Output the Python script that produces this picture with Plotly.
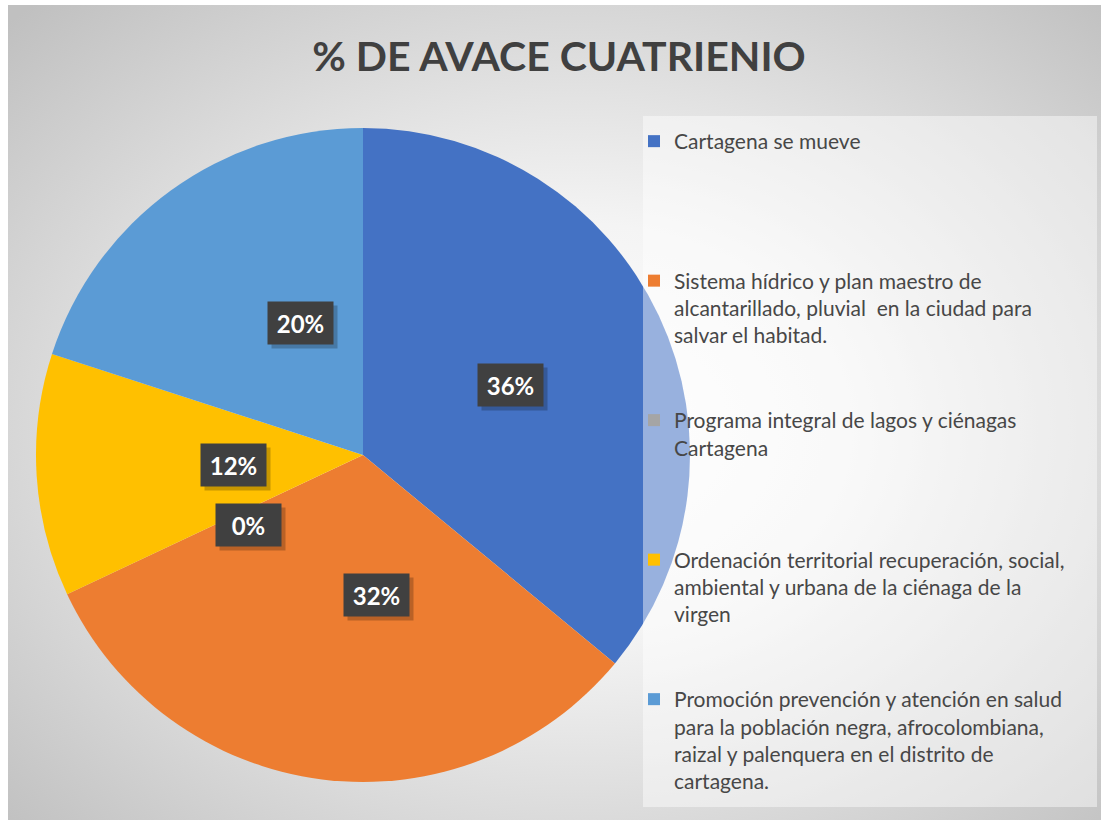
import base64
import math
import plotly.graph_objects as go

W, H = 1101, 820

title_text = "% DE AVACE CUATRIENIO"
categories = [
    "Cartagena se mueve",
    "Sistema hídrico y plan maestro de<br>alcantarillado, pluvial\u00a0 en la ciudad para<br>salvar el habitad.",
    "Programa integral de lagos y ciénagas<br>Cartagena",
    "Ordenación territorial recuperación, social,<br>ambiental y urbana de la ciénaga de la<br>virgen",
    "Promoción prevención y atención en salud<br>para la población negra, afrocolombiana,<br>raizal y palenquera en el distrito de<br>cartagena.",
]
values = [36, 32, 0, 12, 20]
colors = ["#4472C4", "#ED7D31", "#A5A5A5", "#FFC000", "#5B9BD5"]

# pad legend entries (except the last) to the same number of lines -> even spacing
max_lines = 5
legend_labels = []
for i, c in enumerate(categories):
    n = c.count("<br>") + 1
    pad = 0 if i == len(categories) - 1 else (max_lines - n)
    legend_labels.append(c + "<br>\u00a0" * pad)

# pie geometry (px)
cx_px, cy_px, R_px = 363, 455, 327
dom_x = [(cx_px - R_px) / W, (cx_px + R_px) / W]
dom_y = [1 - (cy_px + R_px) / H, 1 - (cy_px - R_px) / H]

fig = go.Figure()
fig.add_trace(go.Pie(
    labels=legend_labels,
    values=values,
    marker=dict(colors=colors, line=dict(width=0)),
    sort=False,
    direction="clockwise",
    rotation=0,
    textinfo="none",
    hoverinfo="label+percent",
    domain=dict(x=dom_x, y=dom_y),
    showlegend=True,
))

# gradient background
svg = (
    '<svg xmlns="http://www.w3.org/2000/svg" width="1093" height="815" '
    'preserveAspectRatio="none" viewBox="0 0 1093 815">'
    '<defs><radialGradient id="g" cx="0.52" cy="0.52" r="0.72">'
    '<stop offset="0" stop-color="#ffffff"/><stop offset="0.35" stop-color="#f4f4f4"/>'
    '<stop offset="1" stop-color="#c0c0c0"/></radialGradient></defs>'
    '<rect width="1093" height="815" fill="url(#g)"/></svg>'
)
src = "data:image/svg+xml;base64," + base64.b64encode(svg.encode()).decode()

shapes = [
    # legend panel (semi-transparent white over the pie)
    dict(type="rect", xref="paper", yref="paper",
         x0=643 / W, x1=1097 / W, y0=1 - 807 / H, y1=1 - 116 / H,
         fillcolor="rgba(255,255,255,0.45)", line=dict(width=0), layer="above"),
]

annotations = []
total = sum(values)
cum = 0
for v in values:
    mid = (cum + v / 2) / total * 2 * math.pi
    cum += v
    px = cx_px + 0.5 * R_px * math.sin(mid)
    py = cy_px - 0.5 * R_px * math.cos(mid)
    pct = f"{round(v / total * 100)}%"
    annotations.append(dict(
        x=px / W, y=1 - py / H, xref="paper", yref="paper",
        text=" ", showarrow=False, width=63, height=40,
        bgcolor="rgba(0,0,0,0.22)", xshift=4, yshift=-4,
    ))
    annotations.append(dict(
        x=px / W, y=1 - py / H, xref="paper", yref="paper",
        text=f"<b>{pct}</b>", showarrow=False, width=63, height=40,
        bgcolor="#404040", font=dict(family="Lato", size=24, color="white"),
    ))

fig.update_layout(
    width=W, height=H, autosize=False,
    margin=dict(l=0, r=0, t=0, b=0),
    paper_bgcolor="white",
    title=dict(text=f"<b>{title_text}</b>", x=559 / W, xanchor="center",
               y=1 - 57 / H, yanchor="middle",
               font=dict(family="Lato", size=41, color="#404040")),
    legend=dict(x=634 / W, y=1 - 121 / H, xanchor="left", yanchor="top",
                bgcolor="rgba(0,0,0,0)", valign="top",
                font=dict(family="Lato", size=21, color="#474747"),
                traceorder="normal"),
    images=[dict(source=src, xref="paper", yref="paper", x=8 / W, y=1 - 5 / H,
                 sizex=1093 / W, sizey=815 / H, sizing="stretch", layer="below",
                 xanchor="left", yanchor="top")],
    shapes=shapes,
    annotations=annotations,
)

fig.write_html(
    "out.html",
    config={"responsive": False, "displayModeBar": False},
    default_width="1101px",
    default_height="820px",
    post_script="document.body.style.margin='0';document.body.style.overflow='hidden';",
)
